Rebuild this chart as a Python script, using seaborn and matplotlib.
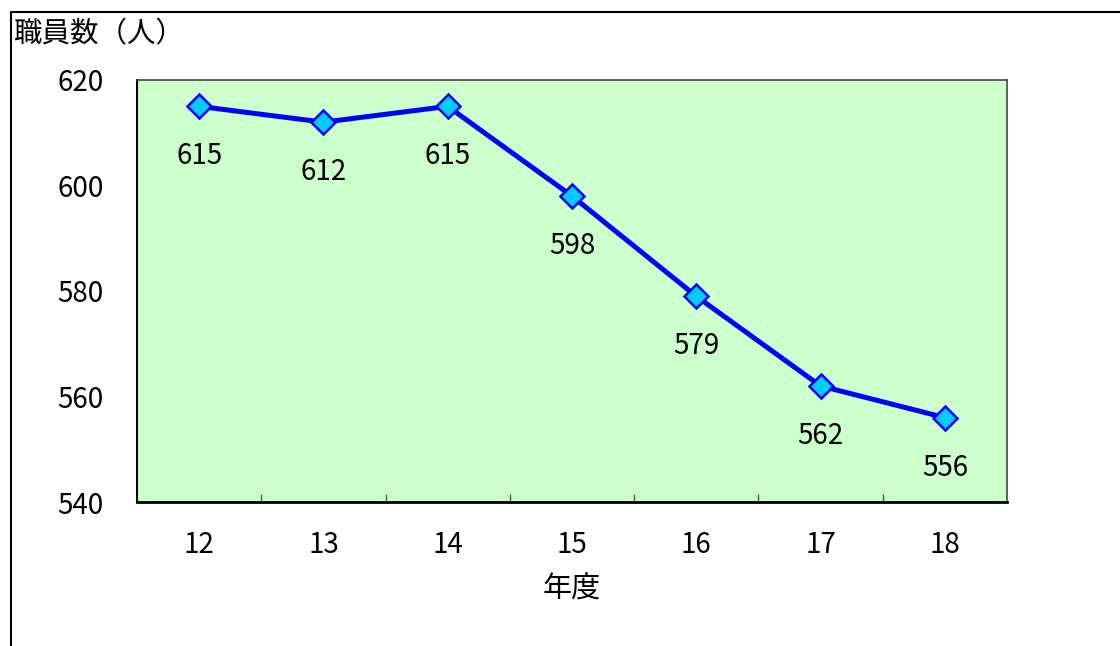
import numpy as np
import pandas as pd
import matplotlib
matplotlib.use("Agg")
import matplotlib.pyplot as plt
from matplotlib.lines import Line2D
from matplotlib.ticker import FixedLocator
import seaborn as sns

# 職員数の推移（年度別）
years = ["12", "13", "14", "15", "16", "17", "18"]
staff = [615, 612, 615, 598, 579, 562, 556]

sns.set_theme(style="white")
plt.rcParams["font.family"] = ["Noto Sans CJK JP", "DejaVu Sans"]

df = pd.DataFrame({"pos": np.arange(len(years)), "staff": staff})

fig = plt.figure(figsize=(11.2, 6.46), dpi=100)
ax = fig.add_axes([0.1223, 0.2229, 0.7768, 0.6533])
ax.set_facecolor("#CCFFCC")

sns.lineplot(data=df, x="pos", y="staff", ax=ax, color="#0000FF", linewidth=3.6,
             marker="D", markersize=12.5, markerfacecolor="#00CCFF",
             markeredgecolor="#0000FF", markeredgewidth=1.8, zorder=3)

# 値ラベル（点の下側）
for x, v in zip(df["pos"], staff):
    ax.annotate(f"{v}", (x, v), xytext=(0, -36), textcoords="offset points",
                ha="center", va="center", fontsize=20, color="black")

ax.set_xlim(-0.5, len(years) - 0.5)
ax.set_ylim(540, 620)
ax.set_yticks([540, 560, 580, 600, 620])
ax.set_xticks(np.arange(len(years)))
ax.set_xticklabels(years)
ax.xaxis.set_minor_locator(FixedLocator(np.arange(0.5, len(years) - 0.5, 1)))
ax.tick_params(axis="x", which="major", length=0, pad=20, labelsize=20, colors="black")
ax.tick_params(axis="x", which="minor", bottom=True, direction="in", length=6,
               width=1, color="#555555")
ax.tick_params(axis="y", which="major", left=False, length=0, pad=24, labelsize=20,
               colors="black")
ax.grid(False)

ax.set_xlabel("年度", fontsize=21, labelpad=11, color="black")
ax.set_ylabel("")

for side, lw, col in [("bottom", 2.0, "black"), ("left", 1.5, "black"),
                      ("top", 1.2, "#444444"), ("right", 1.2, "#444444")]:
    ax.spines[side].set_visible(True)
    ax.spines[side].set_linewidth(lw)
    ax.spines[side].set_color(col)

fig.text(0.012, 0.947, "職員数（人）", fontsize=20.5, ha="left", va="center", color="black")

# 外枠（上辺・左辺）
fx, fy = 11 / 1120, 1 - 12 / 646
fig.add_artist(Line2D([fx, fx], [0, fy], transform=fig.transFigure, color="black", lw=1.5))
fig.add_artist(Line2D([fx, 1], [fy, fy], transform=fig.transFigure, color="black", lw=1.5))

fig.savefig("out.png", dpi=100)
